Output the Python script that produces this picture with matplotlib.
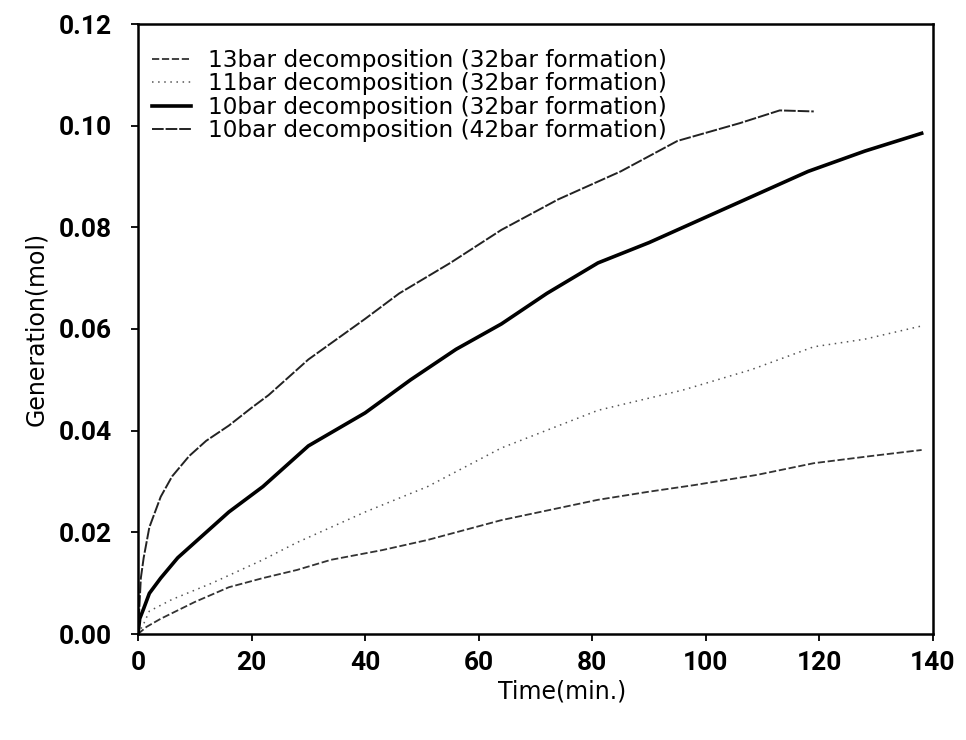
import matplotlib
matplotlib.use('Agg')
from matplotlib import pyplot as plt

# values
t_42 = [0, 0.5, 1, 2, 4, 6, 9, 12, 16, 20, 23, 26, 30, 35, 40, 46, 55, 64, 74, 85, 95, 106, 113, 119]
gen_42 = [0, 0.011, 0.015, 0.021, 0.027, 0.031, 0.035, 0.038, 0.041, 0.0445, 0.047, 0.050, 0.054,
          0.058, 0.062, 0.067, 0.073, 0.0795, 0.0855, 0.091, 0.097, 0.1005, 0.103, 0.1028]

t_10 = [0, 0.3, 1, 2, 4, 7, 10, 16, 22, 30, 40, 48, 56, 64, 72, 81, 90, 99, 108, 118, 128, 138]
gen_10 = [0, 0.003, 0.005, 0.008, 0.011, 0.015, 0.018, 0.024, 0.029, 0.037, 0.0435, 0.050, 0.056,
          0.061, 0.067, 0.073, 0.077, 0.0815, 0.086, 0.091, 0.095, 0.0985]

t_11 = [0, 1, 2, 6, 13, 22, 28, 40, 51, 64, 81, 96, 108, 119, 128, 138]
gen_11 = [0, 0.002, 0.0045, 0.0068, 0.010, 0.0146, 0.018, 0.024, 0.029, 0.0366, 0.044, 0.048,
          0.052, 0.0565, 0.058, 0.0606]

t_13 = [0, 1.5, 4, 10, 16, 22, 28, 34, 43, 51, 64, 81, 90, 98, 109, 119, 129, 138]
gen_13 = [0, 0.0014, 0.003, 0.0063, 0.0092, 0.011, 0.0126, 0.0146, 0.0165, 0.0185, 0.0224,
          0.0264, 0.028, 0.0293, 0.0313, 0.0336, 0.035, 0.0362]

labels = ['13bar decomposition (32bar formation)',
          '11bar decomposition (32bar formation)',
          '10bar decomposition (32bar formation)',
          '10bar decomposition (42bar formation)']

xticks = [0, 20, 40, 60, 80, 100, 120, 140]
yticks = [0.00, 0.02, 0.04, 0.06, 0.08, 0.10, 0.12]

W, H = 966, 740
fig = plt.figure(figsize=(W / 100, H / 100), dpi=100)
ax = fig.add_axes([138 / W, 1 - 634 / H, (933 - 138) / W, (634 - 24) / H])

ax.plot(t_13, gen_13, color='#333333', lw=1.3, linestyle=(0, (4, 1.5)), label=labels[0])
ax.plot(t_11, gen_11, color='#555555', lw=1.1, linestyle=(0, (1, 3)), label=labels[1])
ax.plot(t_10, gen_10, color='black', lw=2.6, label=labels[2])
ax.plot(t_42, gen_42, color='#222222', lw=1.4, linestyle=(0, (6, 1)), label=labels[3])

ax.set_xlim(0, 140)
ax.set_ylim(0, 0.12)
ax.set_xticks(xticks)
ax.set_yticks(yticks)
ax.set_xticklabels([str(v) for v in xticks])
ax.set_yticklabels(['%.2f' % v for v in yticks])
for lab in ax.get_xticklabels() + ax.get_yticklabels():
    lab.set_fontfamily('Roboto')
    lab.set_fontweight('bold')
    lab.set_fontsize(19)
ax.tick_params(direction='out', length=5, width=1.3)
ax.tick_params(axis='y', pad=14)
ax.tick_params(axis='x', pad=7)
for sp in ax.spines.values():
    sp.set_linewidth(1.8)

ax.set_xlabel('Time(min.)', fontsize=17, family='DejaVu Sans')
ax.set_ylabel('Generation(mol)', fontsize=17, family='DejaVu Sans')
ax.xaxis.set_label_coords((562 - 138) / 795, -(679 - 634) / 610)
ax.yaxis.set_label_coords((48 - 138) / 795, 0.5)

ax.legend(loc='upper left', bbox_to_anchor=((152 - 138) / 795, (634 - 49) / 610),
          frameon=False, prop={'family': 'DejaVu Sans', 'size': 16.7},
          handlelength=1.7, handletextpad=0.7, labelspacing=0.02,
          borderpad=0, borderaxespad=0)

fig.savefig('out.png', dpi=100)
